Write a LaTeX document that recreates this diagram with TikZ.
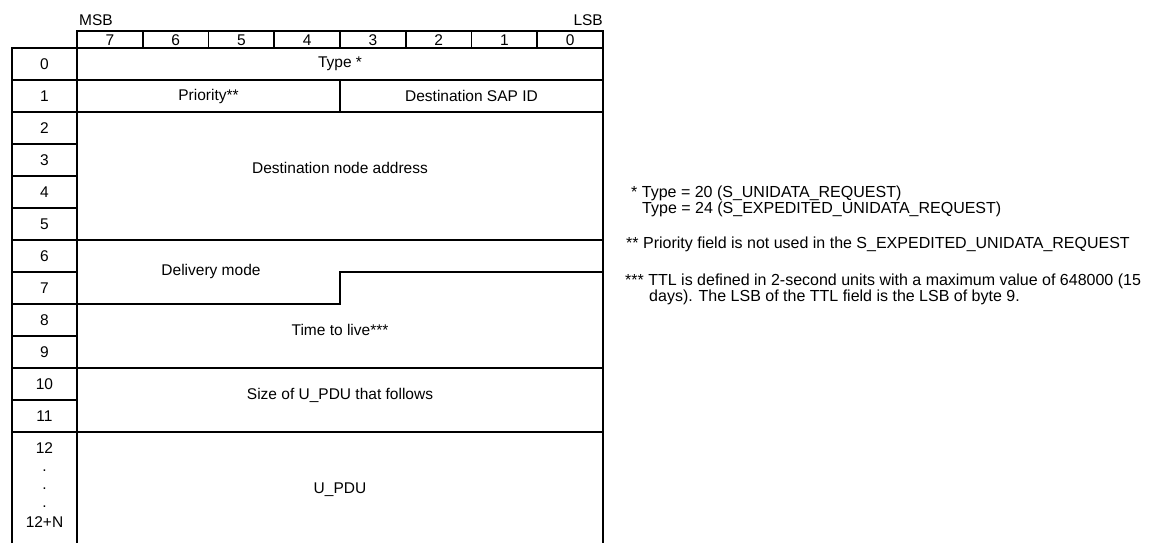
\documentclass[tikz,border=0pt]{standalone}
\usepackage{fontspec}
\setmainfont{Liberation Sans}
\begin{document}
\begin{tikzpicture}[x=1pt,y=-1pt,
  lcol/.style={line width=2.4pt},
  grid/.style={line width=1.8pt},
  thin/.style={line width=1.3pt},
  txt/.style={font=\fontsize{15.5}{18}\selectfont, inner sep=0pt},
  note/.style={font=\fontsize{16}{18}\selectfont, inner sep=0pt, anchor=west}]
\useasboundingbox (0,0) rectangle (1150,543);
\def\cw{65.75}
% header row
\draw[grid] (77,31) rectangle (603,48);
\foreach \i in {1,...,7} {\draw[grid] (77+\i*\cw,31) -- (77+\i*\cw,48);}
\foreach \i/\b in {0/7,1/6,2/5,3/4,4/3,5/2,6/1,7/0} {
  \node[txt] (bit\b) at (77+\i*\cw+0.5*\cw,40) {\b};}
\node[txt, anchor=west] (msb) at (79,20) {MSB};
\node[txt, anchor=east] (lsb) at (603,20) {LSB};
% left byte column
\draw[lcol] (12,543) -- (12,48) -- (77,48) -- (77,543);
\foreach \k in {1,...,12} {\draw[lcol] (12,48+\k*32) -- (77,48+\k*32);}
\foreach \k in {0,...,11} {\node[txt] (r\k) at (44.5,64+\k*32) {\k};}
\node[txt] (r12) at (44.5,448) {12};
\node[txt] (d1) at (44.5,471) {.};
\node[txt] (d2) at (44.5,489) {.};
\node[txt] (d3) at (44.5,507) {.};
\node[txt] (rN) at (44.5,522) {12+N};
% data area
\draw[grid] (603,48) -- (603,543);
\draw[grid] (77,80) -- (603,80);
\draw[grid] (77,112) -- (603,112);
\draw[thin] (340,80) -- (340,112);
\draw[grid] (77,240) -- (603,240);
\draw[grid] (77,304) -- (340,304) -- (340,272) -- (603,272);
\draw[grid] (77,368) -- (603,368);
\draw[grid] (77,432) -- (603,432);
% field texts
\node[txt] (type) at (340,64) {Type *};
\node[txt] (prio) at (208.5,96) {Priority**};
\node[txt] (sap) at (471.5,96) {Destination SAP ID};
\node[txt] (dna) at (340,168) {Destination node address};
\node[txt] (dm) at (211,271) {Delivery mode};
\node[txt] (ttl) at (340,330) {Time to live***};
\node[txt] (size) at (340,395) {Size of U\_PDU that follows};
\node[txt] (updu) at (340,490) {U\_PDU};
% notes
\node[note] (n1) at (631,193) {* Type = 20 (S\_UNIDATA\_REQUEST)};
\node[note] (n2) at (642,209) {Type = 24 (S\_EXPEDITED\_UNIDATA\_REQUEST)};
\node[note] (n3) at (626,244) {** Priority field is not used in the S\_EXPEDITED\_UNIDATA\_REQUEST};
\node[note] (n4) at (625,281) {*** TTL is defined in 2-second units with a maximum value of 648000 (15};
\node[note] (n5) at (649,297) {days). The LSB of the TTL field is the LSB of byte 9.};
\end{tikzpicture}
\end{document}
